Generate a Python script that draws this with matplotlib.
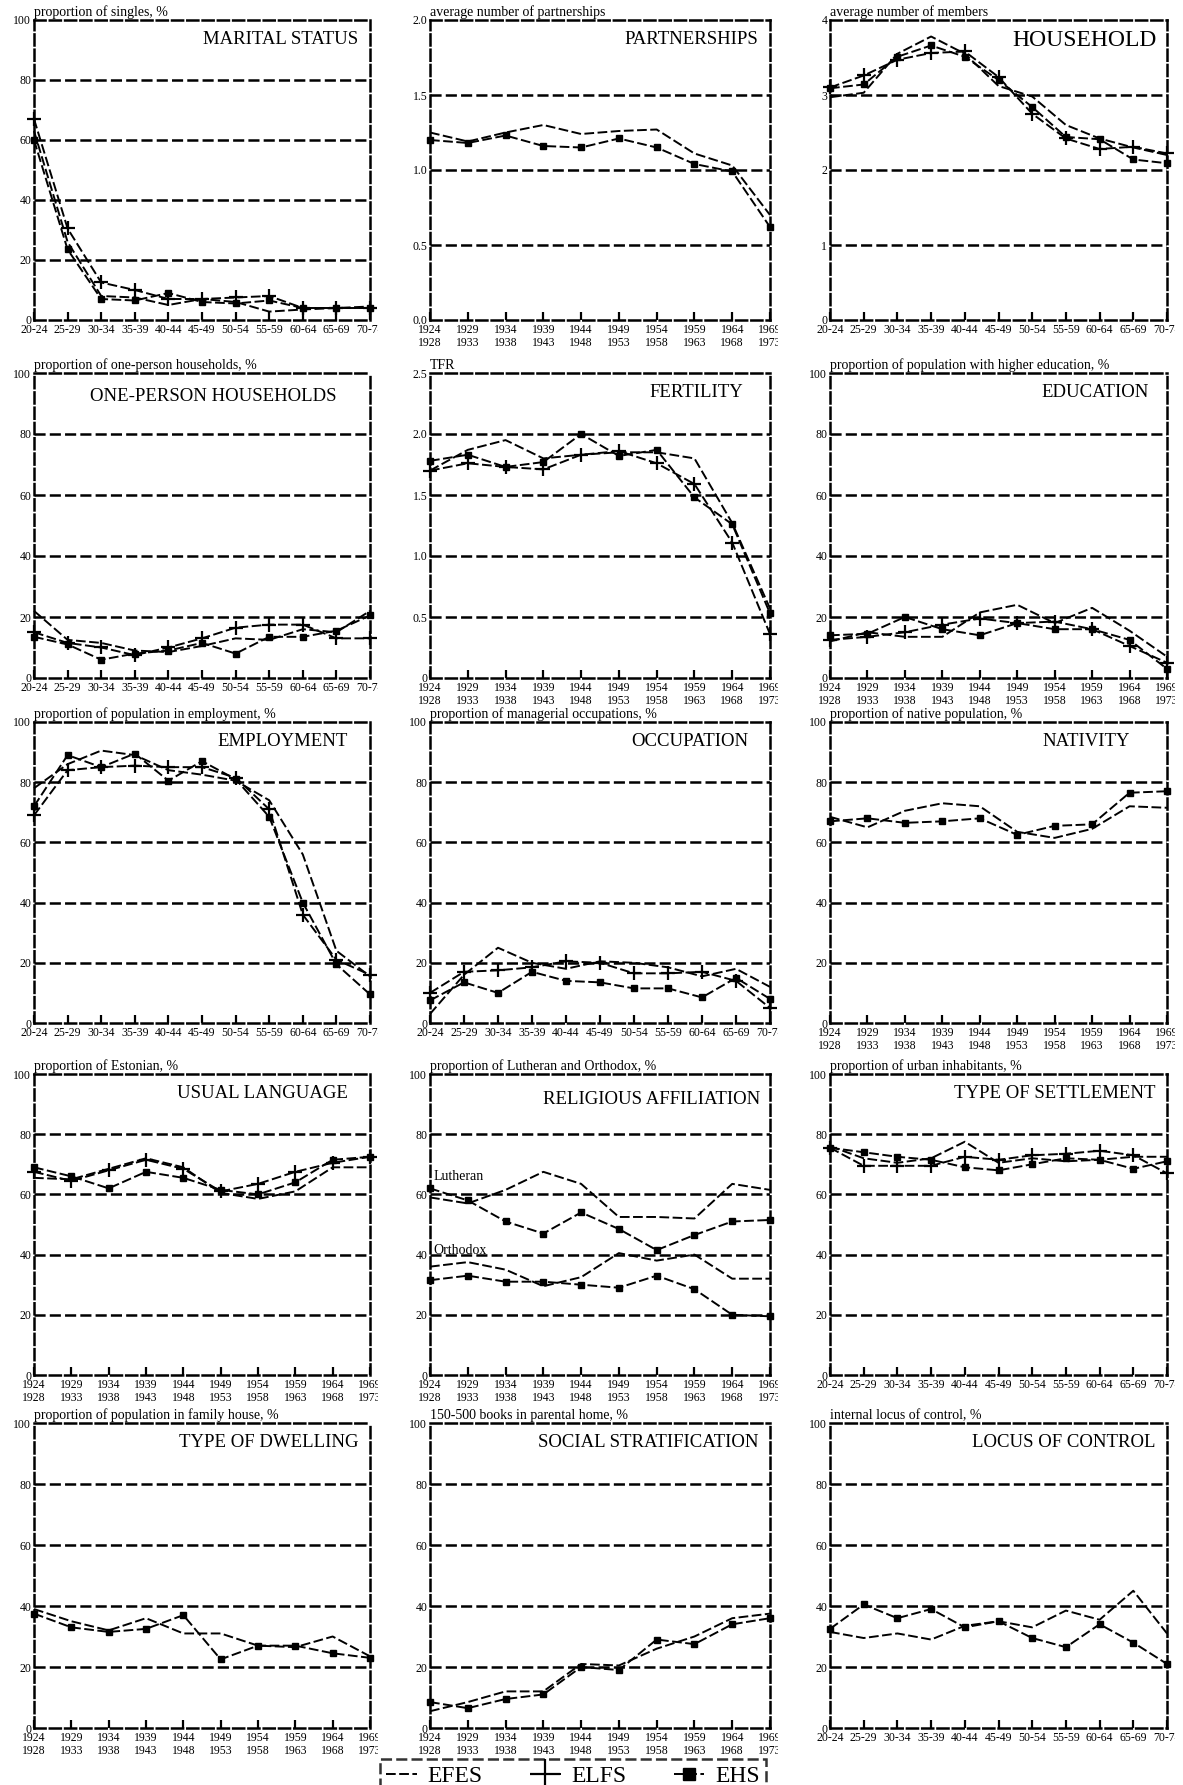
import matplotlib.pyplot as plt
from matplotlib.lines import Line2D
from matplotlib.transforms import Bbox, TransformedBbox

plt.rcParams['font.family'] = ['Liberation Serif', 'DejaVu Serif']
plt.rcParams['lines.scale_dashes'] = False

ages = ["20-24", "25-29", "30-34", "35-39", "40-44", "45-49", "50-54", "55-59", "60-64", "65-69", "70-74"]
cohorts = ["1924\n1928", "1929\n1933", "1934\n1938", "1939\n1943", "1944\n1948",
           "1949\n1953", "1954\n1958", "1959\n1963", "1964\n1968", "1969\n1973"]

# marital status (age)
marital_efes = [63, 26, 8, 7.5, 5, 7, 6, 2.8, 3.5, 4, 4.5]
marital_elfs = [67, 30.5, 12.5, 10, 7, 7, 7.5, 8, 4, 4, 4]
marital_ehs = [60, 23.5, 7, 6.5, 9, 6, 5.5, 6.5, 4, 4, 4]

# partnerships (cohort)
partner_efes = [1.25, 1.19, 1.25, 1.30, 1.24, 1.26, 1.27, 1.11, 1.03, 0.70]
partner_ehs = [1.20, 1.18, 1.23, 1.16, 1.15, 1.21, 1.15, 1.04, 0.99, 0.62]

# household (age)
house_efes = [2.97, 3.03, 3.55, 3.78, 3.55, 3.12, 2.98, 2.60, 2.42, 2.30, 2.20]
house_elfs = [3.10, 3.26, 3.47, 3.56, 3.58, 3.24, 2.75, 2.42, 2.28, 2.31, 2.22]
house_ehs = [3.09, 3.14, 3.51, 3.66, 3.51, 3.20, 2.84, 2.44, 2.41, 2.14, 2.09]

# one-person households (age)
single_hh_efes = [22, 12.5, 11.5, 9, 8.5, 10.5, 13, 12.5, 16, 15, 22]
single_hh_elfs = [15, 11.5, 10, 7.5, 10, 13, 16.5, 17.5, 17.5, 13, 13]
single_hh_ehs = [13.5, 11, 6, 8, 9, 11.5, 8, 13.5, 13.5, 15.5, 20.5]

# fertility (cohort)
tfr_efes = [1.70, 1.87, 1.95, 1.80, 1.83, 1.85, 1.85, 1.80, 1.27, 0.57]
tfr_elfs = [1.70, 1.76, 1.73, 1.71, 1.83, 1.86, 1.76, 1.59, 1.11, 0.36]
tfr_ehs = [1.78, 1.83, 1.73, 1.77, 2.00, 1.82, 1.87, 1.48, 1.26, 0.53]

# education (cohort)
edu_efes = [12, 15, 13.5, 13.5, 21.5, 24, 18, 23, 15.5, 7]
edu_elfs = [12.5, 13.5, 15, 17.5, 19.5, 18, 18.5, 16, 10.5, 5]
edu_ehs = [14, 14.5, 20, 16, 14, 18, 16, 16, 12.5, 3]

# employment (age)
emp_efes = [78, 86, 90.5, 89, 84, 82.5, 80.5, 74, 56, 24, 15.5]
emp_elfs = [69, 84, 85, 85.5, 85, 85, 81.5, 71, 36, 21, 16]
emp_ehs = [72, 89, 85, 89.5, 80.5, 87, 81, 68.5, 40, 19.5, 9.5]

# occupation (age)
occ_efes = [3, 16, 25, 20, 18, 20.5, 20, 18.5, 15.5, 18, 12]
occ_elfs = [10, 17, 17.5, 18.5, 20.5, 20, 16.5, 16.5, 17, 14, 5]
occ_ehs = [7.5, 13.5, 10, 17, 14, 13.5, 11.5, 11.5, 8.5, 15, 8]

# nativity (cohort)
native_efes = [68.5, 65, 70.5, 73, 72, 63.5, 61.5, 64.5, 72, 71.5]
native_ehs = [67, 68, 66.5, 67, 68, 62.5, 65.5, 66, 76.5, 77]

# usual language (cohort)
lang_efes = [65.5, 65, 68.5, 72, 69, 60.5, 58.5, 61, 69, 69]
lang_elfs = [67.5, 64.5, 68, 71.5, 68.5, 61, 63.5, 67.5, 70.5, 72.5]
lang_ehs = [69, 66, 62, 67.5, 65.5, 61.5, 60, 64, 71.5, 72.5]

# religious affiliation (cohort)
lutheran_efes = [59, 57, 61.5, 67.5, 63.5, 52.5, 52.5, 52, 63.5, 61.5]
lutheran_ehs = [62, 58, 51, 47, 54, 48.5, 41.5, 46.5, 51, 51.5]
orthodox_efes = [36, 37.5, 35, 29.5, 32.5, 40.5, 38, 40, 32, 32]
orthodox_ehs = [31.5, 33, 31, 31, 30, 29, 33, 28.5, 20, 19.5]

# type of settlement (age)
urban_efes = [76, 72, 70.5, 72, 77.5, 70.5, 72, 71, 71.5, 72.5, 72.5]
urban_elfs = [75.5, 69.5, 69.5, 69.5, 72.5, 71.5, 73, 73.5, 74.5, 73, 67]
urban_ehs = [75.5, 74, 72.5, 71.5, 69, 68, 70, 72, 71.5, 68.5, 71]

# type of dwelling (cohort)
dwell_efes = [39, 35, 32, 36, 31, 31, 27, 26.5, 30, 23.5]
dwell_ehs = [37.5, 33, 31.5, 32.5, 37, 22.5, 27, 27, 24.5, 23]

# social stratification (cohort)
books_efes = [5.5, 8.5, 12, 12, 21, 20.5, 26, 30, 36, 37.5]
books_ehs = [8.5, 6.5, 9.5, 11, 20, 19, 29, 27.5, 34, 36]

# locus of control (age)
locus_efes = [31.5, 29.5, 31, 29, 33.5, 35, 33, 38.5, 35.5, 45, 31]
locus_ehs = [32.5, 40.5, 36, 39, 33, 35, 29.5, 26.5, 34, 28, 21]

W, H = 1183, 1785
fig = plt.figure(figsize=(W / 100, H / 100), dpi=100)

cols = [(34, 370), (430, 770), (830, 1167)]
rows = [(20, 320), (373, 678), (722, 1023), (1074, 1375), (1423, 1728)]

LINE = dict(color='k', lw=1.4, dashes=(7, 2.5), clip_on=False, zorder=3)


def panel(i, xlabels, ylabel, title, yticks, yticklabels=None, tx=0.965, ty=0.965, tsize=13.5):
    r, c = divmod(i, 3)
    x0, x1 = cols[c]
    y0, y1 = rows[r]
    ax = fig.add_axes([x0 / W, 1 - y1 / H, (x1 - x0) / W, (y1 - y0) / H])
    ax.set_xlim(0, len(xlabels) - 1)
    ax.set_ylim(yticks[0], yticks[-1])
    ax.set_xticks(range(len(xlabels)))
    ax.set_xticklabels(xlabels, fontsize=8.5, linespacing=1.05)
    ax.set_yticks(yticks)
    ax.set_yticklabels(yticklabels if yticklabels else [str(v) for v in yticks], fontsize=8.5)
    ax.tick_params(axis='x', direction='in', length=6, width=1.6, pad=3)
    ax.tick_params(axis='y', length=0, pad=2)
    for y in yticks[1:-1]:
        ax.axhline(y, color='k', lw=1.8, dashes=(8, 3), zorder=1)
    for s in ax.spines.values():
        s.set_linestyle((0, (8, 3)))
        s.set_linewidth(1.8)
    ax.text(0, 1.004, ylabel, transform=ax.transAxes, ha='left', va='bottom', fontsize=10)
    ax.text(tx, ty, title, transform=ax.transAxes, ha='right', va='top', fontsize=tsize)
    # the last tick label is cut at the panel edge in the original
    last = ax.get_xticklabels()[-1]
    clip = Bbox.from_extents(0, 0, (x1 + 8) / W, 1)
    last.set_clip_box(TransformedBbox(clip, fig.transFigure))
    last.set_clip_on(True)
    return ax


def efes(ax, vals):
    ax.plot(range(len(vals)), vals, **LINE)


def elfs(ax, vals):
    ax.plot(range(len(vals)), vals, marker='+', ms=10, mew=1.6, **LINE)


def ehs(ax, vals):
    ax.plot(range(len(vals)), vals, marker='s', ms=5, **LINE)


pct = [0, 20, 40, 60, 80, 100]

ax = panel(0, ages, "proportion of singles, %", "MARITAL STATUS", pct)
efes(ax, marital_efes); elfs(ax, marital_elfs); ehs(ax, marital_ehs)

ax = panel(1, cohorts, "average number of partnerships", "PARTNERSHIPS",
           [0, 0.5, 1.0, 1.5, 2.0], ["0.0", "0.5", "1.0", "1.5", "2.0"])
efes(ax, partner_efes); ehs(ax, partner_ehs)

ax = panel(2, ages, "average number of members", "HOUSEHOLD", [0, 1, 2, 3, 4], tx=0.97, tsize=17)
efes(ax, house_efes); elfs(ax, house_elfs); ehs(ax, house_ehs)

ax = panel(3, ages, "proportion of one-person households, %", "ONE-PERSON HOUSEHOLDS", pct,
           tx=0.9, ty=0.95)
efes(ax, single_hh_efes); elfs(ax, single_hh_elfs); ehs(ax, single_hh_ehs)

ax = panel(4, cohorts, "TFR", "FERTILITY", [0, 0.5, 1.0, 1.5, 2.0, 2.5],
           ["0", "0.5", "1.0", "1.5", "2.0", "2.5"], tx=0.92)
efes(ax, tfr_efes); elfs(ax, tfr_elfs); ehs(ax, tfr_ehs)

ax = panel(5, cohorts, "proportion of population with higher education, %", "EDUCATION", pct, tx=0.945)
efes(ax, edu_efes); elfs(ax, edu_elfs); ehs(ax, edu_ehs)

ax = panel(6, ages, "proportion of population in employment, %", "EMPLOYMENT", pct, tx=0.935)
efes(ax, emp_efes); elfs(ax, emp_elfs); ehs(ax, emp_ehs)

ax = panel(7, ages, "proportion of managerial occupations, %", "OCCUPATION", pct, tx=0.935)
efes(ax, occ_efes); elfs(ax, occ_elfs); ehs(ax, occ_ehs)

ax = panel(8, cohorts, "proportion of native population, %", "NATIVITY", pct, tx=0.89)
efes(ax, native_efes); ehs(ax, native_ehs)

ax = panel(9, cohorts, "proportion of Estonian, %", "USUAL LANGUAGE", pct, tx=0.935)
efes(ax, lang_efes); elfs(ax, lang_elfs); ehs(ax, lang_ehs)

ax = panel(10, cohorts, "proportion of Lutheran and Orthodox, %", "RELIGIOUS AFFILIATION", pct,
           tx=0.97, ty=0.945)
efes(ax, lutheran_efes); ehs(ax, lutheran_ehs)
efes(ax, orthodox_efes); ehs(ax, orthodox_ehs)
ax.text(0.1, 66, "Lutheran", fontsize=10, ha='left', va='center')
ax.text(0.1, 41.5, "Orthodox", fontsize=10, ha='left', va='center')

ax = panel(11, ages, "proportion of urban inhabitants, %", "TYPE OF SETTLEMENT", pct)
efes(ax, urban_efes); elfs(ax, urban_elfs); ehs(ax, urban_ehs)

ax = panel(12, cohorts, "proportion of population in family house, %", "TYPE OF DWELLING", pct)
efes(ax, dwell_efes); ehs(ax, dwell_ehs)

ax = panel(13, cohorts, "150-500 books in parental home, %", "SOCIAL STRATIFICATION", pct)
efes(ax, books_efes); ehs(ax, books_ehs)

ax = panel(14, ages, "internal locus of control, %", "LOCUS OF CONTROL", pct)
efes(ax, locus_efes); ehs(ax, locus_ehs)

handles = [
    Line2D([], [], color='k', lw=1.4, dashes=(7, 2.5)),
    Line2D([], [], color='k', lw=1.4, dashes=(7, 2.5), marker='+', ms=22, mew=1.6),
    Line2D([], [], color='k', lw=1.4, dashes=(7, 2.5), marker='s', ms=9),
]
leg = fig.legend(handles, ["EFES", "ELFS", "EHS"], loc='upper left',
                 bbox_to_anchor=(380 / W, 1 - 1759 / H), ncol=3, fontsize=17,
                 frameon=True, fancybox=False, edgecolor='k', handlelength=1.3,
                 handletextpad=0.45, columnspacing=2.0, borderpad=0.27, borderaxespad=0)
leg.get_frame().set_linewidth(1.8)
leg.get_frame().set_linestyle((0, (8, 3)))

fig.savefig("out.png", dpi=100)
